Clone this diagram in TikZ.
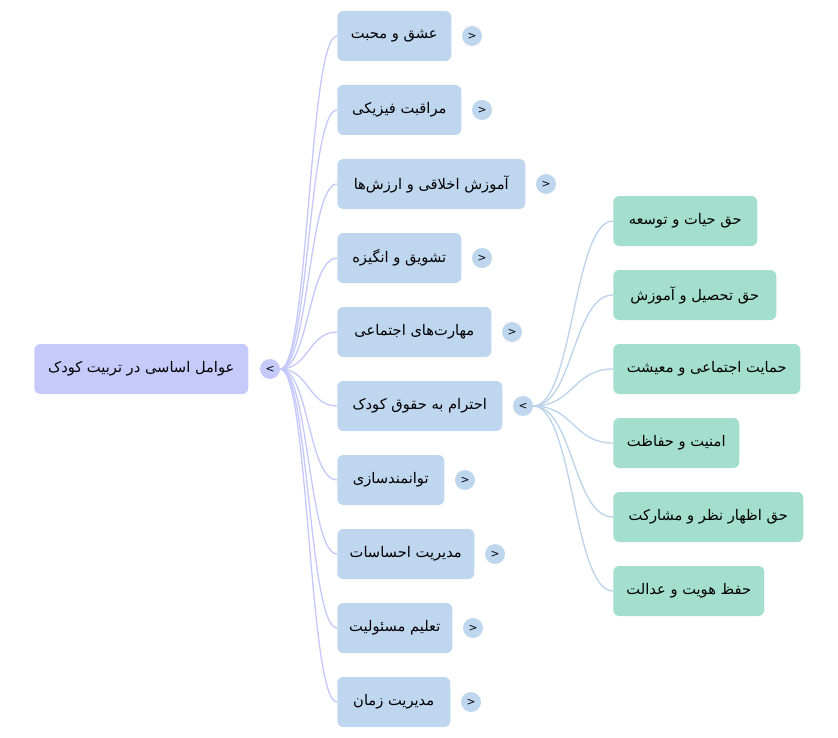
\documentclass[tikz,border=0pt]{standalone}
\usepackage{fontspec}
\newfontfamily\arabicfont[Script=Arabic]{DejaVu Sans}
\newfontfamily\symfont[Script=Latin]{DejaVu Sans}
\TeXXeTstate=1
\usetikzlibrary{calc}
\definecolor{rootfill}{RGB}{197,202,250}
\definecolor{lonefill}{RGB}{190,214,238}
\definecolor{ltwofill}{RGB}{163,223,204}
\definecolor{rootlink}{RGB}{197,201,250}
\definecolor{onelink}{RGB}{188,211,236}
\newcommand\artxt[1]{\beginR #1\endR}
\pgfdeclarelayer{bg}
\pgfsetlayers{bg,main}
\tikzset{
  box/.style={anchor=west, rounded corners=4.5pt, minimum height=37.5pt, inner sep=0pt, text=black,
    font=\arabicfont\fontsize{11}{13}\selectfont},
  wd/.style={minimum width={#1*0.75pt}},
  rootbox/.style={box, fill=rootfill},
  lonebox/.style={box, fill=lonefill},
  ltwobox/.style={box, fill=ltwofill},
  tog/.style={circle, minimum size=15pt, inner sep=0pt, text=black, font=\symfont\fontsize{8}{8}\selectfont},
  rlink/.style={draw=rootlink, line width=1pt},
  olink/.style={draw=onelink, line width=1pt},
}
\begin{document}
\begin{tikzpicture}[x=0.75pt,y=-0.75pt]
\useasboundingbox (0,0) rectangle (838,738);
% root
\node[rootbox, wd=214] (root) at (34,369) {\artxt{عوامل اساسی در تربیت کودک}};
\node[tog, fill=rootfill] (rt) at (270,369) {<};
% level one
\node[lonebox, wd=114] (a1) at (337,36) {\artxt{عشق و محبت}};
\node[lonebox, wd=124] (a2) at (337,110) {\artxt{مراقبت فیزیکی}};
\node[lonebox, wd=188] (a3) at (337,184) {\artxt{آموزش اخلاقی و ارزش‌ها}};
\node[lonebox, wd=124] (a4) at (337,258) {\artxt{تشویق و انگیزه}};
\node[lonebox, wd=154] (a5) at (337,332) {\artxt{مهارت‌های اجتماعی}};
\node[lonebox, wd=165] (a6) at (337,406) {\artxt{احترام به حقوق کودک}};
\node[lonebox, wd=107] (a7) at (337,480) {\artxt{توانمندسازی}};
\node[lonebox, wd=137] (a8) at (337,554) {\artxt{مدیریت احساسات}};
\node[lonebox, wd=115] (a9) at (337,628) {\artxt{تعلیم مسئولیت}};
\node[lonebox, wd=113] (a10) at (337,702) {\artxt{مدیریت زمان}};
\foreach \i in {1,2,3,4,5,7,8,9,10}{
  \node[tog, fill=lonefill] (t\i) at ($(a\i.east)+(20.5,0)$) {>};
}
\node[tog, fill=lonefill] (t6) at ($(a6.east)+(20.5,0)$) {<};
% level two
\node[ltwobox, wd=144] (b1) at (613,221) {\artxt{حق حیات و توسعه}};
\node[ltwobox, wd=163] (b2) at (613,295) {\artxt{حق تحصیل و آموزش}};
\node[ltwobox, wd=187] (b3) at (613,369) {\artxt{حمایت اجتماعی و معیشت}};
\node[ltwobox, wd=126] (b4) at (613,443) {\artxt{امنیت و حفاظت}};
\node[ltwobox, wd=190] (b5) at (613,517) {\artxt{حق اظهار نظر و مشارکت}};
\node[ltwobox, wd=151] (b6) at (613,591) {\artxt{حفظ هویت و عدالت}};
% links
\begin{pgfonlayer}{bg}
\foreach \i in {1,...,10}{
  \draw[rlink] (rt.east) .. controls ($(rt.east)!0.5!(rt.east -| a\i.west)$) and ($(a\i.west)!0.5!(a\i.west -| rt.east)$) .. (a\i.west);
}
\foreach \i in {1,...,6}{
  \draw[olink] (t6.east) .. controls ($(t6.east)!0.5!(t6.east -| b\i.west)$) and ($(b\i.west)!0.5!(b\i.west -| t6.east)$) .. (b\i.west);
}
\end{pgfonlayer}
\end{tikzpicture}
\end{document}
